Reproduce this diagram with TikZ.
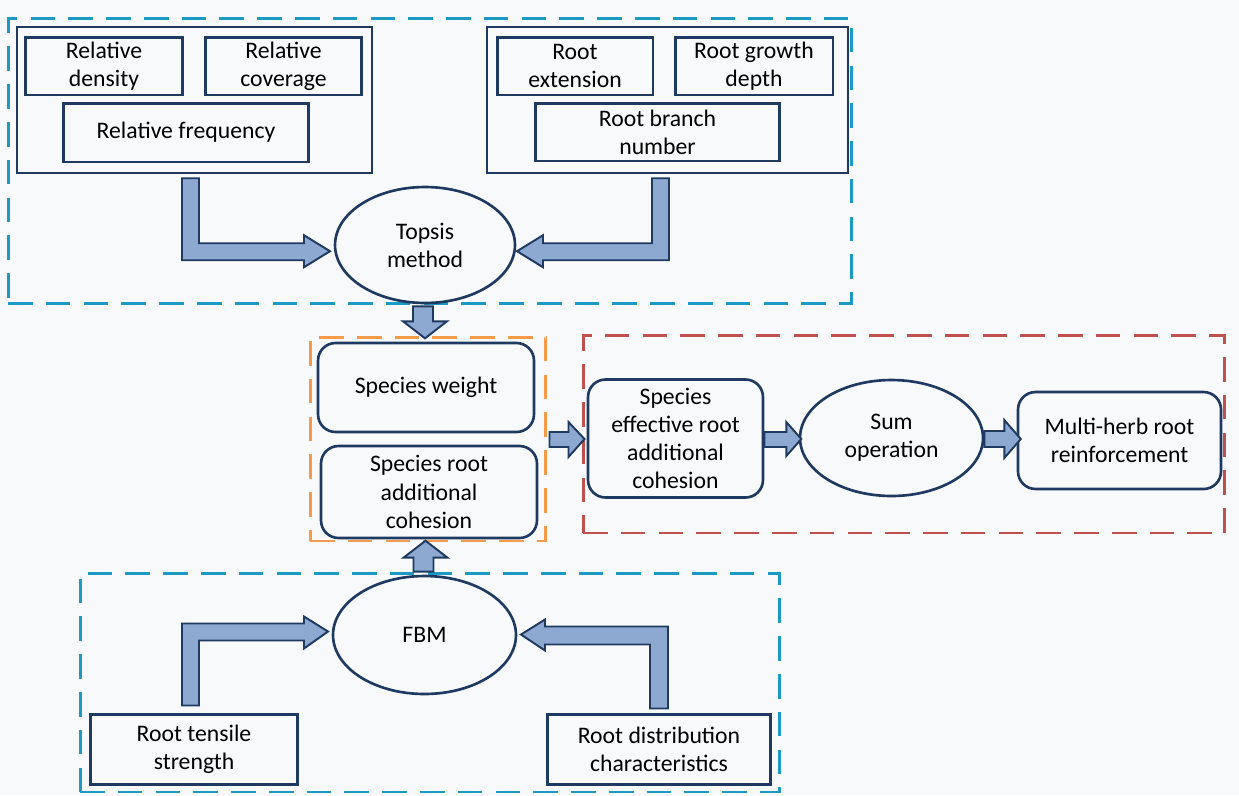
\documentclass[tikz,border=0pt]{standalone}
\usepackage{fontspec}
\setmainfont{Carlito}
\usetikzlibrary{shapes.geometric,calc}

\definecolor{navy}{HTML}{1F3A60}
\definecolor{arrowblue}{HTML}{8DA9D2}
\definecolor{dashblue}{HTML}{1B9AC4}
\definecolor{dashorange}{HTML}{F59A48}
\definecolor{dashred}{HTML}{C0504D}
\definecolor{paper}{HTML}{F8F9FA}

\newcommand{\lbl}{\fontsize{13.5}{16}\selectfont}

\tikzset{
  item/.style={draw=navy, line width=1.7pt, align=center, inner sep=0pt, font=\lbl},
  frame/.style={draw=navy, line width=1.4pt, inner sep=0pt},
  rbox/.style={item, line width=1.5pt, rounded corners=0.35cm},
  oval/.style={ellipse, draw=navy, line width=1.5pt, align=center, inner sep=0pt, font=\lbl},
  grp/.style={line width=1.7pt, inner sep=0pt, dash pattern=on 14pt off 7.5pt},
  blk/.style={draw=navy, fill=arrowblue, line width=1.1pt, line join=miter}
}

\begin{document}
\begin{tikzpicture}[x=0.02cm,y=-0.02cm]
  \fill[paper] (0,0) rectangle (1239,795);
  \useasboundingbox (0,0) rectangle (1239,795);

  % dashed groups
  \node[grp, draw=dashblue, minimum width=16.88cm, minimum height=5.72cm] (topgrp) at (430,161) {};
  \node[grp, draw=dashblue, minimum width=14cm, minimum height=4.38cm] (botgrp) at (430,682.5) {};
  \node[grp, draw=dashorange, minimum width=4.72cm, minimum height=4.08cm] (wgrp) at (428,439) {};
  \node[grp, draw=dashred, minimum width=12.84cm, minimum height=3.96cm] (redgrp) at (904,434) {};

  % community indicators
  \node[frame, minimum width=7.1cm, minimum height=2.92cm] (lgrp) at (194.5,100) {};
  \node[item, minimum width=3.16cm, minimum height=1.16cm] (dens) at (104,66) {Relative\\density};
  \node[item, minimum width=3.14cm, minimum height=1.16cm] (cov) at (283.5,66) {Relative\\coverage};
  \node[item, minimum width=4.92cm, minimum height=1.18cm] (freq) at (186,132.5) {Relative frequency};

  % root traits
  \node[frame, minimum width=7.22cm, minimum height=2.92cm] (rgrp) at (667.5,100) {};
  \node[item, minimum width=3.12cm, minimum height=1.16cm] (ext) at (575,66) {Root\\extension};
  \node[item, minimum width=3.16cm, minimum height=1.16cm] (depth) at (754,66) {Root growth\\depth};
  \node[item, minimum width=4.9cm, minimum height=1.16cm] (branch) at (657.5,132) {Root branch\\number};

  \node[oval, minimum width=3.6cm, minimum height=2.32cm] (topsis) at (425,245) {Topsis\\method};

  \node[rbox, minimum width=4.32cm, minimum height=1.78cm] (sw) at (426,387.5) {Species weight};
  \node[rbox, minimum width=4.32cm, minimum height=1.84cm] (src) at (429,492) {Species root\\additional\\cohesion};

  \node[rbox, minimum width=3.5cm, minimum height=2.36cm] (sec) at (675.5,438.5) {Species\\effective root\\additional\\cohesion};
  \node[oval, minimum width=3.66cm, minimum height=2.32cm] (sum) at (891.5,438) {Sum\\operation};
  \node[rbox, minimum width=4.06cm, minimum height=1.94cm] (mhr) at (1119.5,440.5) {Multi-herb root\\reinforcement};

  \node[oval, minimum width=3.66cm, minimum height=2.36cm] (fbm) at (424.5,635) {FBM};
  \node[item, minimum width=4.16cm, minimum height=1.4cm] (rts) at (194,749) {Root tensile\\strength};
  \node[item, minimum width=4.48cm, minimum height=1.4cm] (rdc) at (659,749) {Root distribution\\characteristics};

  % block arrows
  \draw[blk] ($(lgrp.south)+(-12.5,4)$) -- ++(17,0) -- ++(0,65) -- ++(105,0) -- ++(0,-8)
    -- ++(26,16) -- ++(-26,16) -- ++(0,-7) -- ++(-122,0) -- cycle;
  \draw[blk] ($(rgrp.south)+(1.5,4)$) -- ++(-17,0) -- ++(0,65) -- ++(-109,0) -- ++(0,-8)
    -- ++(-26,16) -- ++(26,16) -- ++(0,-7) -- ++(126,0) -- cycle;
  \draw[blk] ($(topsis.south)+(-12,2)$) -- ++(20,0) -- ++(0,15) -- ++(14,0) -- ++(-22,17)
    -- ++(-22,-17) -- ++(10,0) -- cycle;
  \draw[blk] ($(fbm.north)+(-11,-3)$) -- ++(20,0) -- ++(0,-14) -- ++(14,0) -- ++(-22,-17)
    -- ++(-22,17) -- ++(10,0) -- cycle;
  \draw[blk] ($(rts.north)+(-12,-7)$) -- ++(17,0) -- ++(0,-65) -- ++(105,0) -- ++(0,8)
    -- ++(24,-17) -- ++(-24,-15) -- ++(0,7) -- ++(-122,0) -- cycle;
  \draw[blk] ($(rdc.north)+(9,-4)$) -- ++(-18,0) -- ++(0,-64) -- ++(-105,0) -- ++(0,6)
    -- ++(-24,-16) -- ++(24,-15) -- ++(0,7) -- ++(123,0) -- cycle;
  \draw[blk] ($(wgrp.east)+(2,-7)$) -- ++(19,0) -- ++(0,-10) -- ++(16,17) -- ++(-16,18)
    -- ++(0,-10) -- ++(-19,0) -- cycle;
  \draw[blk] ($(sec.east)+(0,-6.5)$) -- ++(22,0) -- ++(0,-10) -- ++(15,17) -- ++(-15,17)
    -- ++(0,-9) -- ++(-22,0) -- cycle;
  \draw[blk] ($(sum.east)+(0,-7)$) -- ++(20,0) -- ++(0,-11) -- ++(16.5,19) -- ++(-16.5,19)
    -- ++(0,-11) -- ++(-20,0) -- cycle;
\end{tikzpicture}
\end{document}
